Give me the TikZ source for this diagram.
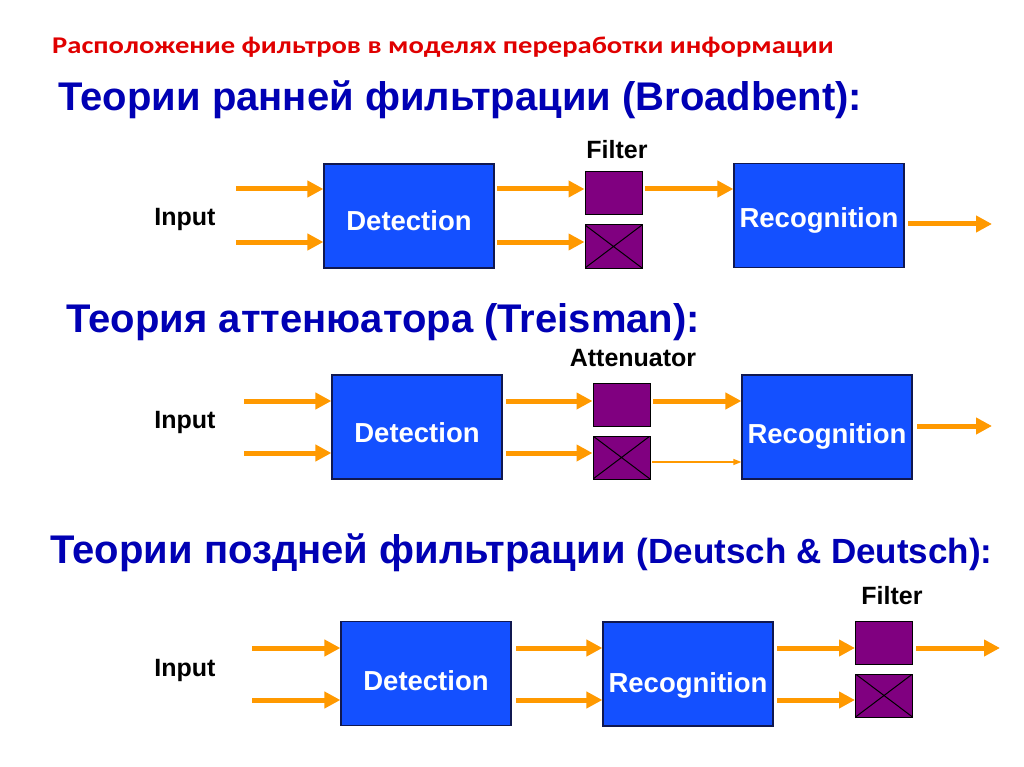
\documentclass[tikz,border=0pt]{standalone}
\usepackage{fontspec}
\setmainfont{Liberation Sans}
\newfontfamily\calib{Carlito}
\usetikzlibrary{arrows.meta}
\definecolor{boxblue}{HTML}{1450FF}
\definecolor{boxedge}{HTML}{101850}
\definecolor{filtpurple}{HTML}{800080}
\definecolor{flowor}{HTML}{FF9900}
\definecolor{headblue}{HTML}{0000B4}
\definecolor{redt}{HTML}{E00000}
\newcommand\dn[2]{\raisebox{-#1}[\height][\depth]{#2}}
\begin{document}
\begin{tikzpicture}[x=1pt,y=-1pt,
  stage/.style={draw=boxedge, line width=1.2pt, fill=boxblue, minimum width=170pt, minimum height=104pt, inner sep=0pt, text=white, font=\bfseries\fontsize{27.5}{30}\selectfont},
  filtbox/.style={draw=black, line width=1pt, fill=filtpurple, minimum width=57pt, minimum height=43pt, inner sep=0pt},
  blocked/.style={filtbox, path picture={\draw[line width=1pt] (path picture bounding box.north west) -- (path picture bounding box.south east) (path picture bounding box.south west) -- (path picture bounding box.north east);}},
  flow/.style={draw=flowor, line width=5pt, -{Triangle[length=16pt,width=16pt]}},
  weak/.style={draw=flowor, line width=1.2pt, -{Triangle[length=8pt,width=6pt]}},
  lab/.style={font=\bfseries\fontsize{25}{28}\selectfont},
  heading/.style={text=headblue, font=\bfseries\fontsize{40}{44}\selectfont, anchor=west, inner sep=0pt}
]
\useasboundingbox[fill=white] (0,0) rectangle (1024,767);

% title
\node[anchor=west, inner sep=0pt, text=redt, font=\calib\bfseries\fontsize{24}{28}\selectfont] (title) at (52,47) {\scalebox{1.19}[1]{Расположение фильтров в моделях переработки информации}};

% ---------- Broadbent ----------
\node[heading] (h1) at (58,100) {Теории ранней фильтрации (Broadbent):};
\node[lab] (in1) at (185,219) {Input};
\node[stage] (det1) at (409,216) {\dn{5pt}{Detection}};
\node[filtbox] (fa1) at (613.5,193.5) {};
\node[blocked] (fb1) at (613.5,246.5) {};
\node[lab] (fl1) at (617,150) {Filter};
\node[stage] (rec1) at (819,215.5) {\dn{5pt}{Recognition}};
\coordinate (i1a) at (236,189);
\coordinate (i1b) at (236,242);
\coordinate (d1a) at (497,189);
\coordinate (d1b) at (497,242);
\coordinate (f1a) at (645,189);
\coordinate (o1) at (992,224);
\coordinate (r1o) at (908,224);
\draw[flow] (i1a) -- (i1a -| det1.west);
\draw[flow] (i1b) -- (i1b -| det1.west);
\draw[flow] (d1a) -- (d1a -| fa1.west);
\draw[flow] (d1b) -- (d1b -| fb1.west);
\draw[flow] (f1a) -- (f1a -| rec1.west);
\draw[flow] (r1o) -- (o1);

% ---------- Treisman ----------
\node[heading] (h2) at (66,322) {Теория аттенюатора (Treisman):};
\node[lab] (in2) at (185,422) {Input};
\node[stage] (det2) at (417,427) {\dn{6pt}{Detection}};
\node[filtbox] (fa2) at (621.5,405) {};
\node[blocked] (fb2) at (621.5,457.5) {};
\node[lab] (fl2) at (633,358) {Attenuator};
\node[stage] (rec2) at (827,427) {\dn{9pt}{Recognition}};
\coordinate (i2a) at (244,401);
\coordinate (i2b) at (244,453);
\coordinate (d2a) at (506,401);
\coordinate (d2b) at (506,453);
\coordinate (f2a) at (653,401);
\coordinate (f2b) at (652,462);
\coordinate (r2o) at (917,426);
\coordinate (o2) at (992,426);
\draw[flow] (i2a) -- (i2a -| det2.west);
\draw[flow] (i2b) -- (i2b -| det2.west);
\draw[flow] (d2a) -- (d2a -| fa2.west);
\draw[flow] (d2b) -- (d2b -| fb2.west);
\draw[flow] (f2a) -- (f2a -| rec2.west);
\draw[weak] (f2b) -- (f2b -| rec2.west);
\draw[flow] (r2o) -- (o2);

% ---------- Deutsch & Deutsch ----------
\node[heading] (h3) at (50,553) {Теории поздней фильтрации \fontsize{35}{38}\selectfont(Deutsch \& Deutsch):};
\node[lab] (in3) at (185,670) {Input};
\node[stage] (det3) at (426,673.5) {\dn{7pt}{Detection}};
\node[stage] (rec3) at (688,674) {\dn{11pt}{Recognition}};
\node[filtbox] (fa3) at (884,643) {};
\node[blocked] (fb3) at (884,695.5) {};
\node[lab] (fl3) at (892,596) {Filter};
\coordinate (i3a) at (252,648);
\coordinate (i3b) at (252,700);
\coordinate (d3a) at (516,648);
\coordinate (d3b) at (516,700);
\coordinate (r3a) at (777,648);
\coordinate (r3b) at (777,700);
\coordinate (f3a) at (916,648);
\coordinate (o3) at (1000,648);
\draw[flow] (i3a) -- (i3a -| det3.west);
\draw[flow] (i3b) -- (i3b -| det3.west);
\draw[flow] (d3a) -- (d3a -| rec3.west);
\draw[flow] (d3b) -- (d3b -| rec3.west);
\draw[flow] (r3a) -- (r3a -| fa3.west);
\draw[flow] (r3b) -- (r3b -| fb3.west);
\draw[flow] (f3a) -- (o3);
\end{tikzpicture}
\end{document}
